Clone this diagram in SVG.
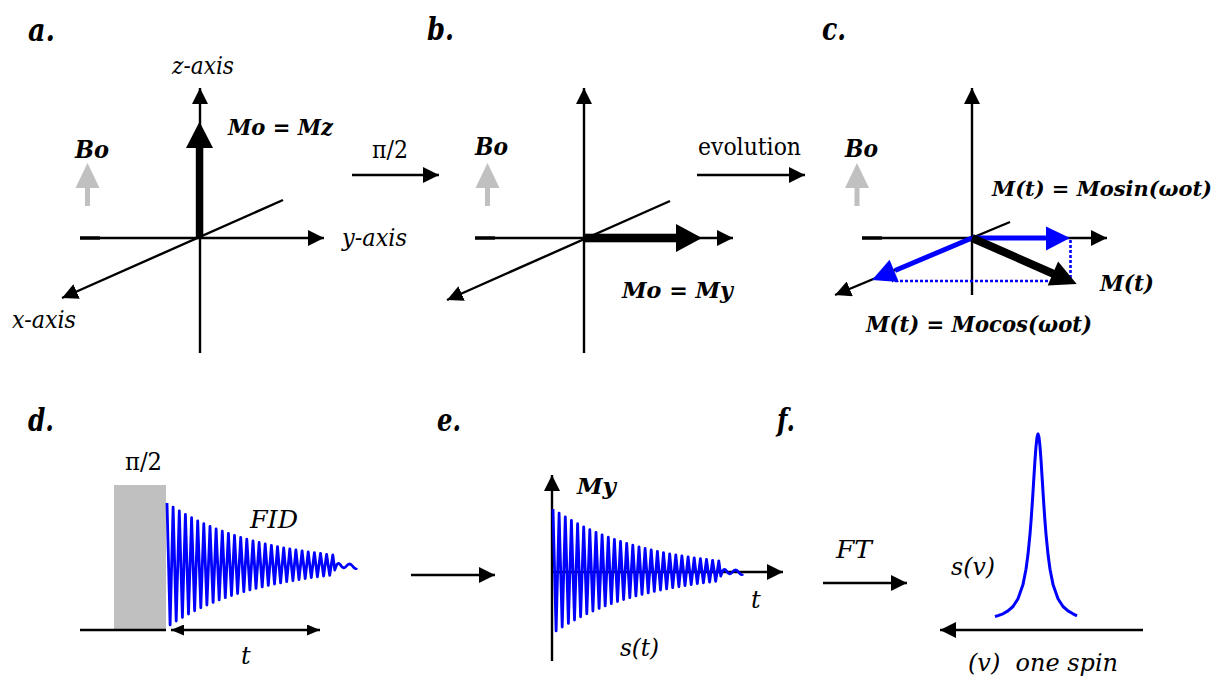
<svg xmlns="http://www.w3.org/2000/svg" width="1221" height="677" viewBox="0 0 1221 677">
<style>
text{font-family:"DejaVu Serif","Liberation Serif","Times New Roman",serif;fill:#000}
.lbl{font-size:32px;font-weight:bold;font-style:italic}
.it{font-size:24px;font-style:italic}
.rg{font-size:24px}
.bi{font-size:25px;font-weight:bold;font-style:italic}
.bm{font-size:23px;font-weight:bold;font-style:italic}
.ax{stroke:#000;stroke-width:2.4;fill:none}
.axa{stroke:#000;stroke-width:2.4;fill:none;marker-end:url(#ah)}
.bo{fill:#c0c0c0}
.wave{fill:none;stroke:#0000ff;stroke-width:2.8;stroke-linejoin:round}
.dot{stroke:#0000ff;stroke-width:2.6;stroke-dasharray:3 2;fill:none}
</style>
<defs>
<marker id="ah" markerUnits="userSpaceOnUse" markerWidth="16" markerHeight="16" refX="16" refY="8" orient="auto" viewBox="0 0 16 16"><path d="M0,0 L16,8 L0,16 z" fill="#000"/></marker>
<marker id="ahs" markerUnits="userSpaceOnUse" markerWidth="13" markerHeight="11" refX="13" refY="5.5" orient="auto-start-reverse" viewBox="0 0 13 11"><path d="M0,0 L13,5.5 L0,11 z" fill="#000"/></marker>
<path id="fid" class="wave" d="M167,503 L170.1,624.9 L173.1,507.1 L176.2,621 L179.3,510.8 L182.4,617.4 L185.4,514.4 L188.5,614 L191.6,517.7 L194.6,610.8 L197.7,520.8 L200.8,607.8 L203.8,523.7 L206.9,605 L210,526.4 L213.1,602.4 L216.1,528.9 L219.2,599.9 L222.3,531.2 L225.3,597.6 L228.4,533.4 L231.5,595.5 L234.5,535.5 L237.6,593.5 L240.7,537.4 L243.8,591.7 L246.8,539.2 L249.9,589.9 L253,540.9 L256,588.3 L259.1,542.5 L262.2,586.8 L265.2,544 L268.3,585.4 L271.4,545.3 L274.5,584 L277.5,546.6 L280.6,582.8 L283.7,547.8 L286.7,581.6 L289.8,548.9 L292.9,580.5 L295.9,550 L299,579.5 L302.1,551 L305.2,578.6 L308.2,551.9 L311.3,577.7 L314.4,552.7 L317.4,576.9 L320.5,553.5 L323.6,576.1 L326.6,554.3 L329.7,575.4 L332.8,555 L334.8,570 Q337.5,560 340.5,565 T346.5,566 T352.5,566 T357,568"/>
</defs>
<rect width="1221" height="677" fill="#fff"/>

<g id="panel-a">
<text class="lbl" x="28" y="41" textLength="27" lengthAdjust="spacingAndGlyphs">a.</text>
<line class="axa" x1="200" y1="353" x2="200" y2="88"/>
<line class="axa" x1="80" y1="238" x2="324" y2="238"/>
<line class="ax" x1="80" y1="238" x2="100" y2="238" style="stroke-width:3.4"/>
<line class="axa" x1="283" y1="200" x2="62" y2="298"/>
<rect x="195.8" y="146" width="7.5" height="92" fill="#000"/>
<path d="M199.5,121.7 L186,148 L213,148 z" fill="#000"/>
<g class="bo"><rect x="85" y="186" width="5" height="20"/><path d="M87.5,163 L75.5,188 L99.5,188 z"/></g>
<text class="it" x="172" y="74" textLength="62" lengthAdjust="spacingAndGlyphs">z-axis</text>
<text class="it" x="342" y="246" textLength="65" lengthAdjust="spacingAndGlyphs">y-axis</text>
<text class="it" x="12" y="328" textLength="64" lengthAdjust="spacingAndGlyphs">x-axis</text>
<text class="bi" x="75" y="158" textLength="34" lengthAdjust="spacingAndGlyphs">Bo</text>
<text class="bm" x="228" y="135" textLength="105" lengthAdjust="spacingAndGlyphs">Mo = Mz</text>
</g>

<g id="panel-b">
<text class="lbl" x="427" y="40" textLength="27" lengthAdjust="spacingAndGlyphs">b.</text>
<line class="axa" x1="584" y1="353" x2="584" y2="88"/>
<line class="axa" x1="475" y1="238" x2="733" y2="238"/>
<line class="ax" x1="475" y1="238" x2="495" y2="238" style="stroke-width:3.4"/>
<line class="axa" x1="670" y1="201" x2="447" y2="300"/>
<rect x="584" y="233.7" width="94" height="8.6" fill="#000"/>
<path d="M702,238 L676,224 L676,252 z" fill="#000"/>
<g class="bo"><rect x="485" y="186" width="5" height="20"/><path d="M487.5,163 L475.5,188 L499.5,188 z"/></g>
<text class="bi" x="475" y="155" textLength="33" lengthAdjust="spacingAndGlyphs">Bo</text>
<text class="bm" x="622" y="298" textLength="111" lengthAdjust="spacingAndGlyphs">Mo = My</text>
</g>

<g id="panel-c">
<text class="lbl" x="822" y="40" textLength="24" lengthAdjust="spacingAndGlyphs">c.</text>
<line class="axa" x1="972" y1="295" x2="972" y2="88"/>
<line class="axa" x1="862" y1="238" x2="1107" y2="238"/>
<line class="ax" x1="862" y1="238" x2="882" y2="238" style="stroke-width:3.4"/>
<line class="axa" x1="1010" y1="222" x2="835" y2="295"/>
<path class="dot" d="M1070.5,240 V281 M1068,281 H892"/>
<line x1="972" y1="238" x2="1048" y2="238" stroke="#0000ff" stroke-width="5"/>
<path d="M1070,238 L1046,226.5 L1046,250.5 z" fill="#0000ff"/>
<line x1="972" y1="238" x2="895" y2="270.5" stroke="#0000ff" stroke-width="5"/>
<path d="M872,280 L898.8,281.9 L889.6,259.7 z" fill="#0000ff"/>
<line x1="972" y1="238" x2="1055" y2="274.5" stroke="#000" stroke-width="8"/>
<path d="M1076.7,284 L1047.7,285.4 L1058.1,261.6 z" fill="#000"/>
<g class="bo"><rect x="854.5" y="186" width="5" height="20"/><path d="M857,163 L845,188 L869,188 z"/></g>
<text class="bi" x="845" y="157" textLength="33" lengthAdjust="spacingAndGlyphs">Bo</text>
<text class="bm" x="992" y="196" style="font-size:21px" textLength="220" lengthAdjust="spacingAndGlyphs">M(t) = Mosin(ωot)</text>
<text class="bm" x="1100" y="291" textLength="54" lengthAdjust="spacingAndGlyphs">M(t)</text>
<text class="bm" x="866" y="332" textLength="226" lengthAdjust="spacingAndGlyphs">M(t) = Mocos(ωot)</text>
</g>

<g id="panel-d">
<text class="lbl" x="28" y="431" textLength="26" lengthAdjust="spacingAndGlyphs">d.</text>
<rect x="114" y="485" width="52" height="145" fill="#c0c0c0"/>
<line class="ax" x1="80" y1="630" x2="166" y2="630" style="stroke-width:2.6"/>
<use href="#fid"/>
<line x1="171" y1="630" x2="320" y2="630" stroke="#000" stroke-width="2.6" marker-start="url(#ahs)" marker-end="url(#ahs)"/>
<text class="rg" x="125" y="470" textLength="37" lengthAdjust="spacingAndGlyphs">π/2</text>
<text class="it" x="250" y="528" textLength="48" lengthAdjust="spacingAndGlyphs">FID</text>
<text class="it" x="241" y="664">t</text>
</g>

<g id="panel-e">
<text class="lbl" x="437" y="431" textLength="24" lengthAdjust="spacingAndGlyphs">e.</text>
<line class="axa" x1="552" y1="661" x2="552" y2="475"/>
<line class="axa" x1="552" y1="572" x2="783" y2="572"/>
<use href="#fid" transform="translate(386,6)"/>
<text class="bi" x="577" y="494" style="font-size:23px" textLength="39" lengthAdjust="spacingAndGlyphs">My</text>
<text class="it" x="751" y="608">t</text>
<text class="it" x="620" y="656" textLength="39" lengthAdjust="spacingAndGlyphs">s(t)</text>
</g>

<g id="panel-f">
<text class="lbl" x="777" y="431" textLength="18" lengthAdjust="spacingAndGlyphs">f.</text>
<path class="wave" style="stroke-width:3" d="M995,616.5 L998,615.6 L1003,613.8 L1008,610.9 L1013,606.5 L1018,598.8 L1023,584.4 L1026,569.2 L1028,554.3 L1030,534.1 L1031,521.5 L1032,507.4 L1033,491.8 L1034,475.6 L1035,459.9 L1036,446.5 L1037,437.3 L1038,434 L1039,437.3 L1040,446.5 L1041,459.9 L1042,475.6 L1043,491.8 L1044,507.4 L1045,521.5 L1046,534.1 L1048,554.3 L1050,569.2 L1053,584.4 L1058,598.8 L1063,606.5 L1068,610.9 L1073,613.8 L1077,615.8"/>
<line class="axa" x1="1143" y1="630" x2="940" y2="630"/>
<text class="it" x="836" y="558" textLength="36" lengthAdjust="spacingAndGlyphs">FT</text>
<text class="it" x="951" y="575" textLength="44" lengthAdjust="spacingAndGlyphs">s(v)</text>
<text class="it" x="968" y="671" xml:space="preserve" textLength="150" lengthAdjust="spacingAndGlyphs">(v)  one spin</text>
</g>

<g id="connectors">
<line class="axa" x1="352" y1="175" x2="439" y2="175"/>
<text class="rg" x="372" y="158" textLength="36" lengthAdjust="spacingAndGlyphs">π/2</text>
<line class="axa" x1="697" y1="175" x2="805" y2="175"/>
<text class="rg" x="698" y="155" textLength="103" lengthAdjust="spacingAndGlyphs">evolution</text>
<line class="axa" x1="411" y1="575" x2="495" y2="575"/>
<line class="axa" x1="823" y1="583" x2="907" y2="583"/>
</g>
</svg>
